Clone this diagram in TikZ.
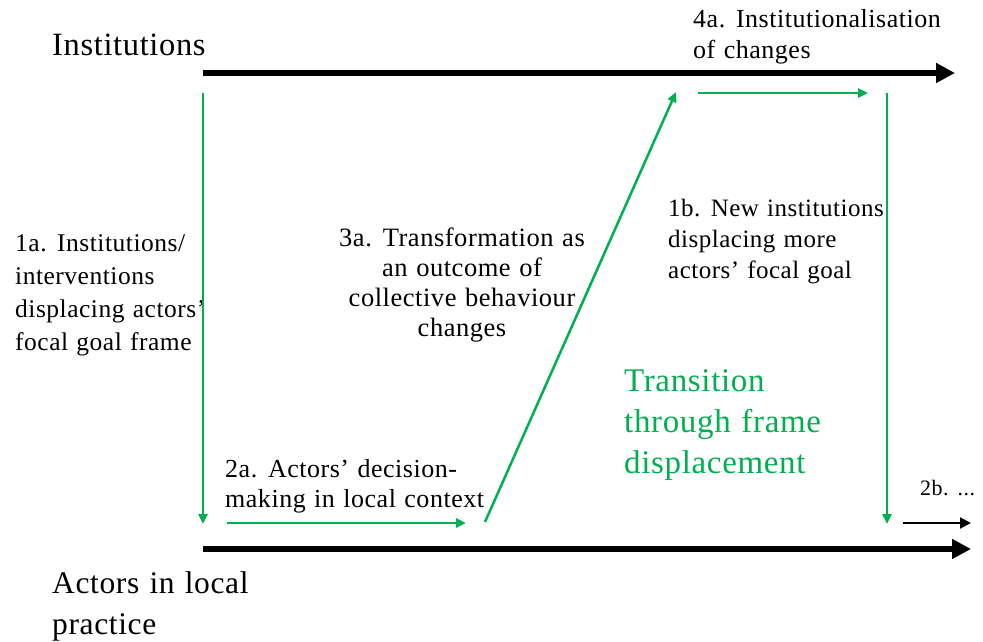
\documentclass[tikz,border=0pt]{standalone}
\usepackage{fontspec}
\setmainfont{Liberation Serif}[LetterSpace = 2, WordSpace = 1.2]
\usetikzlibrary{arrows.meta}
\definecolor{framegreen}{RGB}{0,176,80}
\tikzset{
	axisarrow/.style = {line width = 6pt, -{Triangle[length = 19pt, width = 19pt]}},
	greenarrow/.style = {color = framegreen, line width = 2.5pt, -{Triangle[length = 10pt, width = 9pt]}},
	textbox/.style = {inner sep = 0pt, anchor = north west, align = left, font = \fontsize{26}{31}\selectfont}
}
\begin{document}
\begin{tikzpicture}[x = 1pt, y = -1pt]
	\useasboundingbox (0, 0) rectangle (983, 642);
	% Labels
	\node[textbox, anchor = base west, font = \fontsize{32.5}{41}\selectfont] (institutions) at (52, 56) {Institutions};
	\node[textbox, font = \fontsize{31.5}{41}\selectfont] (actors) at (52, 571) {Actors in local\\practice};
	\node[textbox, font = \fontsize{25.5}{33}\selectfont] (step1a) at (15, 234) {1a. Institutions/\\interventions\\displacing actors'\\focal goal frame};
	\node[textbox, font = \fontsize{26}{30}\selectfont] (step2a) at (225, 459) {2a. Actors' decision-\\making in local context};
	\node[textbox, anchor = north, align = center, font = \fontsize{26.5}{30}\selectfont] (step3a) at (462, 228) {3a. Transformation as\\an outcome of\\collective behaviour\\changes};
	\node[textbox] (step4a) at (693, 9) {4a. Institutionalisation\\of changes};
	\node[textbox, font = \fontsize{25}{31}\selectfont] (step1b) at (668, 199) {1b. New institutions\\displacing more\\actors' focal goal};
	\node[textbox, anchor = base west, font = \fontsize{22}{30}\selectfont] (step2b) at (920, 495) {2b. ...};
	\node[textbox, text = framegreen, font = \fontsize{33}{41}\selectfont] (transition) at (624, 369) {Transition\\through frame\\displacement};
	
	% Arrow ends
	\coordinate (inst start) at (203, 73);
	\coordinate (inst end) at (955, 73);
	\coordinate (act start) at (203, 549);
	\coordinate (act end) at (971, 549);
	\coordinate (1a top) at (203, 93);
	\coordinate (1a bottom) at (203, 524);
	\coordinate (2a start) at (227, 523);
	\coordinate (2a end) at (466, 523);
	\coordinate (3a start) at (485, 522);
	\coordinate (3a end) at (676, 92);
	\coordinate (4a start) at (698, 93);
	\coordinate (4a end) at (868, 93);
	\coordinate (1b top) at (887, 93);
	\coordinate (1b bottom) at (887, 524);
	\coordinate (2b start) at (903, 523);
	\coordinate (2b end) at (971, 523);
	
	% Arrows
	\draw[axisarrow] (inst start) -- (inst end);
	\draw[axisarrow] (act start) -- (act end);
	\draw[greenarrow] (1a top) -- (1a bottom);
	\draw[greenarrow] (2a start) -- (2a end);
	\draw[greenarrow] (3a start) -- (3a end);
	\draw[greenarrow] (4a start) -- (4a end);
	\draw[greenarrow] (1b top) -- (1b bottom);
	\draw[line width = 2pt, -{Triangle[length = 11pt, width = 11pt]}] (2b start) -- (2b end);
\end{tikzpicture}
\end{document}
